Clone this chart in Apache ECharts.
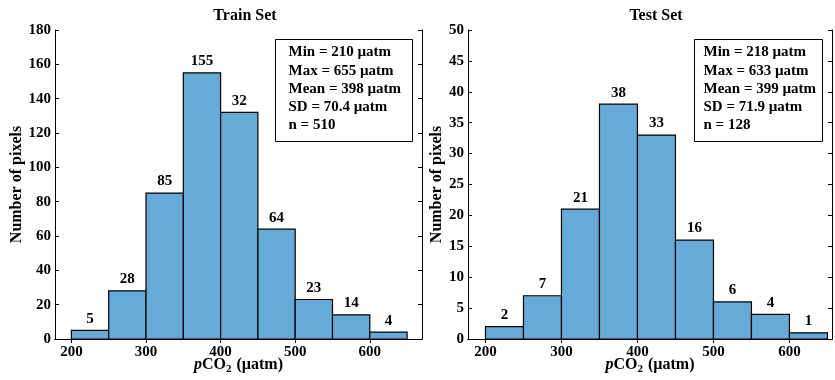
<!DOCTYPE html>
<html>
<head>
<meta charset="utf-8">
<script src="https://cdn.jsdelivr.net/npm/echarts@6/dist/echarts.min.js"></script>
<style>html,body{margin:0;padding:0;background:#fff}#c{width:835px;height:380px}</style>
</head>
<body>
<div id="c"></div>
<script>
// histogram bins (µatm) and counts
const binEdges = [200, 250, 300, 350, 400, 450, 500, 550, 600, 650];
const trainCounts = [5, 28, 85, 155, 132, 64, 23, 14, 4];
const trainLabels = ['5', '28', '85', '155', '32', '64', '23', '14', '4'];
const testCounts = [2, 7, 21, 38, 33, 16, 6, 4, 1];
const testLabels = ['2', '7', '21', '38', '33', '16', '6', '4', '1'];
const xTicks = [200, 300, 400, 500, 600];
const trainStats = ['Min = 210 µatm', 'Max = 655 µatm', 'Mean = 398 µatm', 'SD = 70.4 µatm', 'n = 510'];
const testStats = ['Min = 218 µatm', 'Max = 633 µatm', 'Mean = 399 µatm', 'SD = 71.9 µatm', 'n = 128'];

const FONT = '"Liberation Serif", "DejaVu Serif", serif';
const FILL = '#66aad7';

const bins = counts => counts.map((c, i) => [binEdges[i], binEdges[i + 1], c]);

function histSeries(idx, counts, labels) {
  return {
    type: 'custom', xAxisIndex: idx * 2, yAxisIndex: idx * 2,
    data: bins(counts), encode: { x: [0, 1], y: 2 },
    renderItem: (params, api) => {
      const a = api.coord([api.value(0), api.value(2)]);
      const b = api.coord([api.value(1), 0]);
      return { type: 'group', children: [
        { type: 'rect', shape: { x: a[0], y: a[1], width: b[0] - a[0], height: b[1] - a[1] },
          style: { fill: FILL, stroke: '#000', lineWidth: 1.2 } },
        { type: 'text', style: { text: labels[params.dataIndex], x: (a[0] + b[0]) / 2, y: a[1] - 4,
          align: 'center', verticalAlign: 'bottom', font: 'bold 15px ' + FONT, fill: '#000' } }
      ]};
    }
  };
}

const axLine = { show: true, lineStyle: { color: '#000', width: 1 } };
const tickIn = { inside: true, length: 4, lineStyle: { color: '#000' } };
const lbl = { color: '#000', fontFamily: FONT, fontWeight: 'bold', fontSize: 15 };

function xPair(g, min, max) {
  return [
    { type: 'value', gridIndex: g, min, max, position: 'bottom', splitLine: { show: false },
      axisLine: axLine, axisTick: Object.assign({ customValues: xTicks }, tickIn),
      axisLabel: Object.assign({ customValues: xTicks, margin: 6 }, lbl),
      name: '{p|p}{b|CO}{s|2}{b| (µatm)}', nameLocation: 'middle', nameGap: 16,
      nameMoveOverlap: false,
      nameTextStyle: { rich: {
        p: { fontFamily: FONT, fontWeight: 'bold', fontStyle: 'italic', fontSize: 16, color: '#000' },
        b: { fontFamily: FONT, fontWeight: 'bold', fontSize: 16, color: '#000' },
        s: { fontFamily: FONT, fontWeight: 'bold', fontSize: 11, color: '#000', padding: [9, 1, 0, 0] }
      } } },
    { type: 'value', gridIndex: g, min, max, position: 'top', splitLine: { show: false },
      axisLine: axLine, axisTick: Object.assign({ customValues: xTicks }, tickIn),
      axisLabel: { show: false } }
  ];
}

function yPair(g, max, interval, gap) {
  return [
    { type: 'value', gridIndex: g, min: 0, max, interval, position: 'left', splitLine: { show: false },
      axisLine: axLine, axisTick: tickIn, axisLabel: Object.assign({ margin: 4 }, lbl),
      name: 'Number of pixels', nameLocation: 'middle', nameGap: gap,
      nameTextStyle: { fontFamily: FONT, fontWeight: 'bold', fontSize: 16, color: '#000' } },
    { type: 'value', gridIndex: g, min: 0, max, interval, position: 'right', splitLine: { show: false },
      axisLine: axLine, axisTick: tickIn, axisLabel: { show: false } }
  ];
}

function statsBox(x, y, w, h, pad, lines) {
  return { type: 'group', left: x, top: y, children: [
    { type: 'rect', shape: { x: 0, y: 0, width: w, height: h },
      style: { fill: '#fff', stroke: '#000', lineWidth: 1 } },
    { type: 'text', x: pad, y: 4, style: { text: lines.join('\n'), font: 'bold 15px ' + FONT,
      lineHeight: 18.2, fill: '#000' } }
  ]};
}

const chart = echarts.init(document.getElementById('c'), null, { renderer: 'canvas' });
chart.setOption({
  backgroundColor: '#fff',
  animation: false,
  title: [
    { text: 'Train Set', left: 240, top: 3, textAlign: 'center',
      textStyle: { fontFamily: FONT, fontWeight: 'bold', fontSize: 16, color: '#000' } },
    { text: 'Test Set', left: 651, top: 3, textAlign: 'center',
      textStyle: { fontFamily: FONT, fontWeight: 'bold', fontSize: 16, color: '#000' } }
  ],
  grid: [
    { left: 55, top: 30, width: 367, height: 309, outerBoundsMode: 'none', containLabel: false },
    { left: 468, top: 30, width: 364, height: 309, outerBoundsMode: 'none', containLabel: false }
  ],
  xAxis: [...xPair(0, 178, 670), ...xPair(1, 177, 656)],
  yAxis: [...yPair(0, 180, 20, 28), ...yPair(1, 50, 5, 21)],
  series: [histSeries(0, trainCounts, trainLabels), histSeries(1, testCounts, testLabels)],
  graphic: [
    statsBox(275, 39, 137, 102, 13, trainStats),
    statsBox(694, 39, 128, 102, 9, testStats)
  ]
});
</script>
</body>
</html>
